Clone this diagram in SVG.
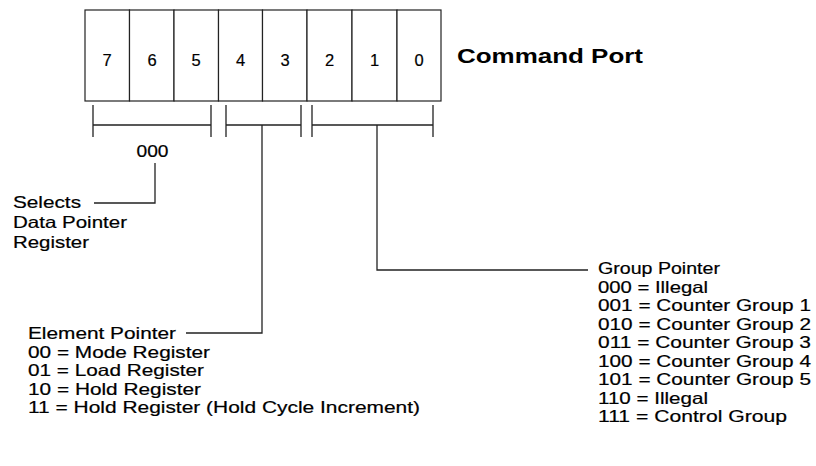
<svg xmlns="http://www.w3.org/2000/svg" width="816" height="466" viewBox="0 0 816 466">
<style>
.cell{fill:#fff;stroke:#222;stroke-width:1.2}
.ln{fill:none;stroke:#222;stroke-width:1.3}
.t{font-family:"Liberation Sans",Arial,sans-serif;font-size:16.5px;fill:#000;stroke:#000;stroke-width:0.2}
.d{font-family:"Liberation Sans",Arial,sans-serif;font-size:16.5px;fill:#000;stroke:#000;stroke-width:0.2;text-anchor:middle}
.b{font-family:"Liberation Sans",Arial,sans-serif;font-size:20px;font-weight:bold;fill:#000}
</style>
<rect width="816" height="466" fill="#fff"/>
<g id="register">
<rect class="cell" x="85" y="10" width="44.5" height="91"/>
<rect class="cell" x="129.5" y="10" width="44.5" height="91"/>
<rect class="cell" x="174" y="10" width="44.5" height="91"/>
<rect class="cell" x="218.5" y="10" width="44" height="91"/>
<rect class="cell" x="262.5" y="10" width="44.5" height="91"/>
<rect class="cell" x="307" y="10" width="45" height="91"/>
<rect class="cell" x="352" y="10" width="45" height="91"/>
<rect class="cell" x="397" y="10" width="44" height="91"/>
<text class="d" x="107" y="66">7</text>
<text class="d" x="152" y="66">6</text>
<text class="d" x="196" y="66">5</text>
<text class="d" x="240.5" y="66">4</text>
<text class="d" x="285" y="66">3</text>
<text class="d" x="329.5" y="66">2</text>
<text class="d" x="374.5" y="66">1</text>
<text class="d" x="419" y="66">0</text>
</g>
<g id="title">
<text class="b" x="457" y="63" textLength="186" lengthAdjust="spacingAndGlyphs">Command Port</text>
</g>
<g id="connectors">
<path class="ln" d="M93,105V137M211,105V137M93,125H211"/>
<path class="ln" d="M226,105V137M301,105V137M226,125H301"/>
<path class="ln" d="M312,105V137M433,105V137M312,125H433"/>
<path class="ln" d="M155,163V203H94"/>
<path class="ln" d="M262,125V333H186"/>
<path class="ln" d="M377,125V270H588"/>
</g>
<g id="data-pointer">
<text class="d" x="152.5" y="157" textLength="32" lengthAdjust="spacingAndGlyphs">000</text>
<text class="t" x="13" y="208" textLength="68" lengthAdjust="spacingAndGlyphs">Selects</text>
<text class="t" x="13" y="228" textLength="114" lengthAdjust="spacingAndGlyphs">Data Pointer</text>
<text class="t" x="13" y="248" textLength="76" lengthAdjust="spacingAndGlyphs">Register</text>
</g>
<g id="element-pointer">
<text class="t" x="28" y="339" textLength="148" lengthAdjust="spacingAndGlyphs">Element Pointer</text>
<text class="t" x="28" y="357.5" textLength="182" lengthAdjust="spacingAndGlyphs">00 = Mode Register</text>
<text class="t" x="28" y="376" textLength="176" lengthAdjust="spacingAndGlyphs">01 = Load Register</text>
<text class="t" x="28" y="394.5" textLength="173" lengthAdjust="spacingAndGlyphs">10 = Hold Register</text>
<text class="t" x="28" y="413" textLength="392" lengthAdjust="spacingAndGlyphs">11 = Hold Register (Hold Cycle Increment)</text>
</g>
<g id="group-pointer">
<text class="t" x="598" y="274" textLength="122" lengthAdjust="spacingAndGlyphs">Group Pointer</text>
<text class="t" x="598" y="292.5" textLength="110" lengthAdjust="spacingAndGlyphs">000 = Illegal</text>
<text class="t" x="598" y="311" textLength="213" lengthAdjust="spacingAndGlyphs">001 = Counter Group 1</text>
<text class="t" x="598" y="329.5" textLength="213" lengthAdjust="spacingAndGlyphs">010 = Counter Group 2</text>
<text class="t" x="598" y="348" textLength="213" lengthAdjust="spacingAndGlyphs">011 = Counter Group 3</text>
<text class="t" x="598" y="366.5" textLength="213" lengthAdjust="spacingAndGlyphs">100 = Counter Group 4</text>
<text class="t" x="598" y="385" textLength="213" lengthAdjust="spacingAndGlyphs">101 = Counter Group 5</text>
<text class="t" x="598" y="403.5" textLength="110" lengthAdjust="spacingAndGlyphs">110 = Illegal</text>
<text class="t" x="598" y="422" textLength="189" lengthAdjust="spacingAndGlyphs">111 = Control Group</text>
</g>
</svg>
